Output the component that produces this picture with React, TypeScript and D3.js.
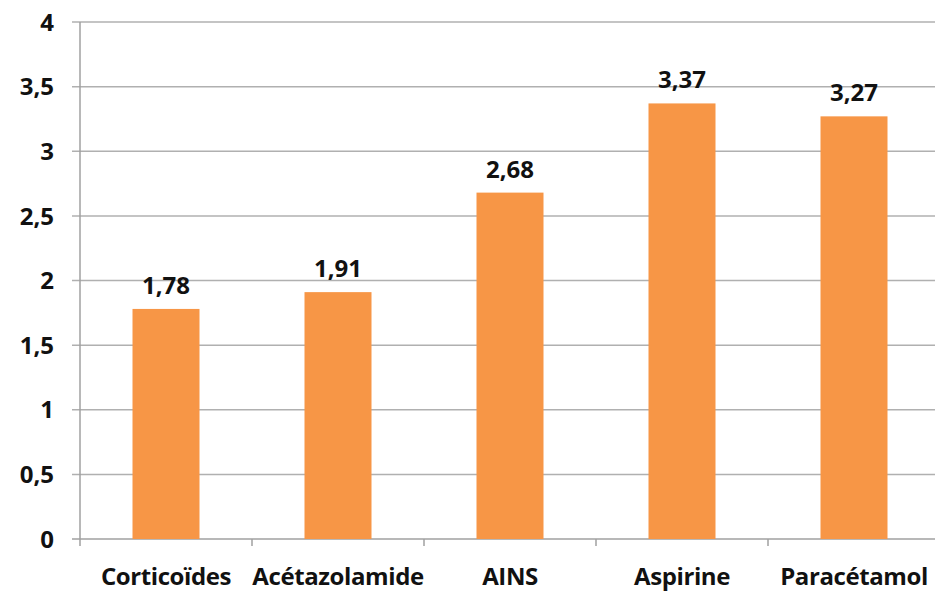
import React, { useEffect, useRef } from "react";
import * as d3 from "d3";

// Chart data
const categories = ["Corticoïdes", "Acétazolamide", "AINS", "Aspirine", "Paracétamol"];
const values = [1.78, 1.91, 2.68, 3.37, 3.27];
const yTicks = [0, 0.5, 1, 1.5, 2, 2.5, 3, 3.5, 4];

const fmt = (v: number) => String(v).replace(".", ",");

export default function App() {
  const ref = useRef<SVGSVGElement>(null);

  useEffect(() => {
    const width = 935,
      height = 594;
    const margin = { top: 22, right: -5, bottom: 55, left: 80 };

    const svg = d3.select(ref.current);
    svg.selectAll("*").remove();

    const x = d3
      .scaleBand()
      .domain(categories)
      .range([margin.left, width - margin.right])
      .paddingInner(0)
      .paddingOuter(0);

    const y = d3
      .scaleLinear()
      .domain([0, 4])
      .range([height - margin.bottom, margin.top]);

    const font = "'Open Sans', Lato, sans-serif";
    const fontSize = 24;

    // Gridlines
    svg
      .append("g")
      .selectAll("line")
      .data(yTicks.filter((t) => t > 0))
      .join("line")
      .attr("x1", margin.left - 8)
      .attr("x2", width)
      .attr("y1", (d) => y(d))
      .attr("y2", (d) => y(d))
      .attr("stroke", "#b0b0b0")
      .attr("stroke-width", 1.5);

    // Y axis line
    svg
      .append("line")
      .attr("x1", margin.left)
      .attr("x2", margin.left)
      .attr("y1", y(4))
      .attr("y2", y(0) + 7)
      .attr("stroke", "#a0a0a0")
      .attr("stroke-width", 1.5);

    // X axis line
    svg
      .append("line")
      .attr("x1", margin.left - 8)
      .attr("x2", width)
      .attr("y1", y(0))
      .attr("y2", y(0))
      .attr("stroke", "#a0a0a0")
      .attr("stroke-width", 1.5);

    // Bottom ticks between categories
    svg
      .append("g")
      .selectAll("line")
      .data(categories.slice(1))
      .join("line")
      .attr("x1", (d) => x(d)!)
      .attr("x2", (d) => x(d)!)
      .attr("y1", y(0))
      .attr("y2", y(0) + 7)
      .attr("stroke", "#a0a0a0")
      .attr("stroke-width", 1.5);

    // Y tick labels
    svg
      .append("g")
      .selectAll("text")
      .data(yTicks)
      .join("text")
      .attr("x", 54)
      .attr("y", (d) => y(d))
      .attr("dy", "0.36em")
      .attr("text-anchor", "end")
      .attr("font-family", font)
      .attr("font-weight", "bold")
      .attr("font-size", fontSize)
      .attr("fill", "#111")
      .text((d) => fmt(d));

    // Bars
    const barW = 67;
    svg
      .append("g")
      .selectAll("rect")
      .data(values)
      .join("rect")
      .attr("x", (d, i) => x(categories[i])! + x.bandwidth() / 2 - barW / 2)
      .attr("y", (d) => y(d))
      .attr("width", barW)
      .attr("height", (d) => y(0) - y(d))
      .attr("fill", "#f79646");

    // Value labels
    svg
      .append("g")
      .selectAll("text")
      .data(values)
      .join("text")
      .attr("x", (d, i) => x(categories[i])! + x.bandwidth() / 2)
      .attr("y", (d) => y(d) - 15)
      .attr("text-anchor", "middle")
      .attr("font-family", font)
      .attr("font-weight", "bold")
      .attr("font-size", fontSize)
      .attr("fill", "#111")
      .text((d) => fmt(d));

    // Category labels
    svg
      .append("g")
      .selectAll("text")
      .data(categories)
      .join("text")
      .attr("x", (d) => x(d)! + x.bandwidth() / 2)
      .attr("y", 585)
      .attr("text-anchor", "middle")
      .attr("font-family", font)
      .attr("font-weight", "bold")
      .attr("font-size", fontSize)
      .attr("letter-spacing", -0.4)
      .attr("fill", "#111")
      .text((d) => d);
  }, []);

  return (
    <svg
      ref={ref}
      width={935}
      height={594}
      style={{ position: "absolute", left: 0, top: 0, background: "#fff" }}
    ></svg>
  );
}
